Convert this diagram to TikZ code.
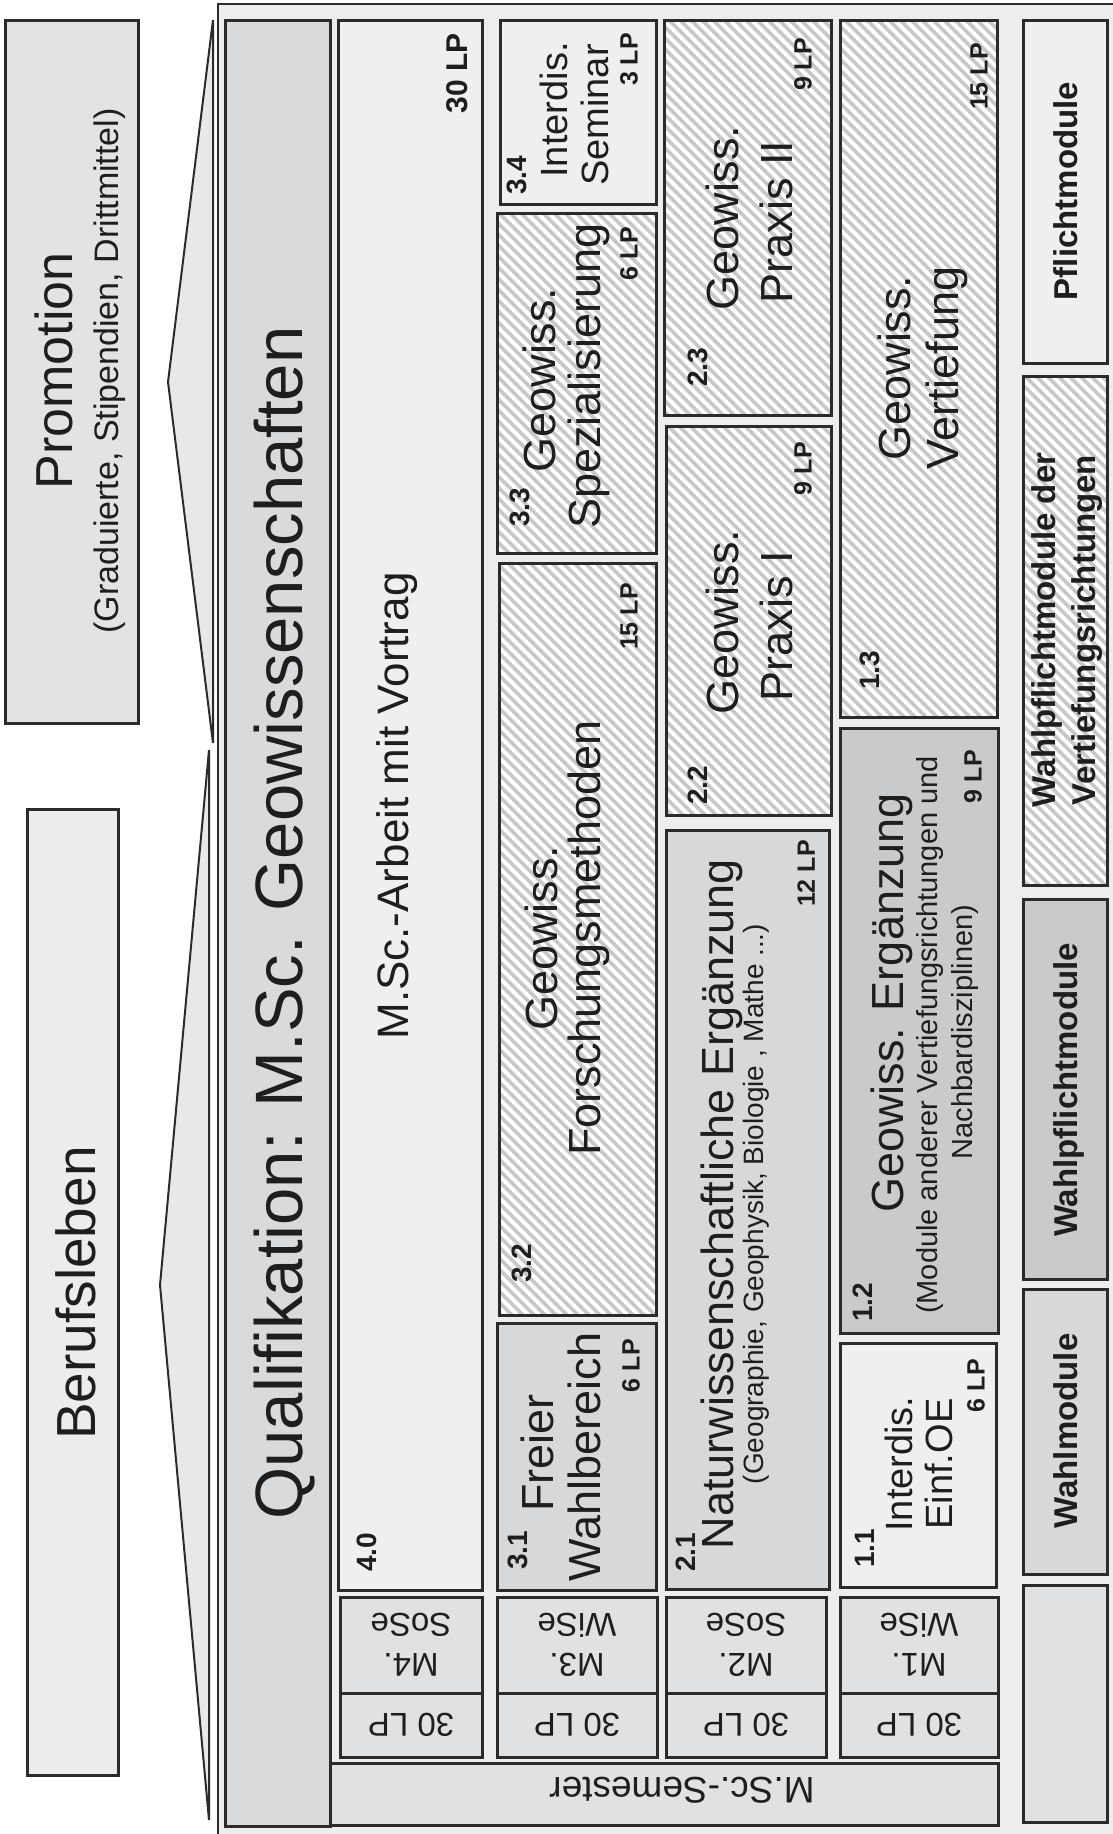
\documentclass[tikz,border=0pt]{standalone}
\usepackage{fontspec}
\setmainfont{Liberation Sans}

\definecolor{linec}{HTML}{2B2B2B}
\definecolor{textc}{HTML}{1E1E1E}
\definecolor{framec}{HTML}{EDEDED}
\definecolor{wedgec}{HTML}{E8E8E8}
\definecolor{promoc}{HTML}{E2E3E4}
\definecolor{berufc}{HTML}{ECECEC}
\definecolor{qualic}{HTML}{D9DADC}
\definecolor{pflichtc}{HTML}{EFEFEF}
\definecolor{wahlc}{HTML}{D7D8DA}
\definecolor{wpflc}{HTML}{C9CACC}
\definecolor{semc}{HTML}{E0E1E3}
\definecolor{hatchc}{HTML}{C8C8C8}

\newcommand\fsz[1]{\fontsize{#1}{#1}\selectfont}
% hatched module box: x1, y1, x2, y2 (stripes x - y = const, every 11 units)
\newcommand\hatchbox[4]{%
  \begin{scope}
    \clip (#1,#2) rectangle (#3,#4);
    \fill[white] (#1,#2) rectangle (#3,#4);
    \pgfmathtruncatemacro\hstart{floor((#1-#4)/11)*11}
    \pgfmathtruncatemacro\hnext{\hstart+11}
    \foreach \hl in {\hstart,\hnext,...,#3}
      \draw[hatchline] ({\hl+#2},#2) -- ({\hl+#4},#4);
  \end{scope}
  \draw[box] (#1,#2) rectangle (#3,#4);}

\begin{document}
\begin{tikzpicture}[x=1pt, y=-1pt]
\tikzset{
    box/.style={draw=linec, line width=3pt},
    framebox/.style={draw=linec, line width=2.5pt, fill=framec},
    wedge/.style={draw=linec, line width=2pt, fill=wedgec, line join=miter},
    pflicht/.style={box, fill=pflichtc},
    wahl/.style={box, fill=wahlc},
    wpfl/.style={box, fill=wpflc},
    hatchline/.style={draw=hatchc, line width=3.6pt},
    vtext/.style={rotate=90, anchor=base, inner sep=0pt, text=textc},
    modtitle/.style={vtext, font=\fsz{45}},
    subtext/.style={vtext, font=\fsz{29}},
    modnum/.style={rotate=90, anchor=north west, inner sep=0pt, text=textc, font=\bfseries\fsz{28}},
    lp/.style={rotate=90, anchor=south east, inner sep=0pt, text=textc, font=\bfseries\fsz{25}},
    semtext/.style={rotate=180, anchor=base, inner sep=0pt, text=textc, font=\fsz{33}},
    legtext/.style={vtext, font=\bfseries\fsz{33}}
}
\useasboundingbox (0,0) rectangle (1113,1834);

% outer frame and the two wedges
\draw[framebox] (218,4) rectangle (1130,1850);
\draw[wedge] (213,20) -- (168,382) -- (213,743) -- cycle;
\draw[wedge] (209,750) -- (160,1285) -- (209,1820) -- cycle;

% left column
\draw[box, fill=promoc] (5,20) rectangle (138,723);
\node[vtext, font=\fsz{52}] (promo) at (72,371) {Promotion};
\node[vtext, font=\fsz{34}] (promosub) at (118,371) {(Graduierte, Stipendien, Drittmittel)};
\draw[box, fill=berufc] (27,809) rectangle (118,1775);
\node[vtext, font=\fsz{55}] (beruf) at (95,1293) {Berufsleben};

% qualification bar
\draw[box, fill=qualic] (225,20) rectangle (330,1826);
\node[vtext, font=\fsz{67}] (quali) at (302,923) {Qualifikation: M.Sc. Geowissenschaften};

% semester 4
\draw[pflicht] (338,20) rectangle (482,1590);
\node[modnum] (n40) at (357,1572) {4.0};
\node[vtext, font=\fsz{44}] (t40) at (408,806) {M.Sc.-Arbeit mit Vortrag};
\node[lp, font=\bfseries\fsz{30}] (lp40) at (468,33) {30 LP};

% semester 3
\draw[pflicht] (500,20) rectangle (656,204);
\node[modnum] (n34) at (507,195) {3.4};
\node[vtext, font=\fsz{38}] (t34a) at (567,110) {Interdis.};
\node[vtext, font=\fsz{38}] (t34b) at (608,115) {Seminar};
\node[lp] (lp34) at (638,33) {3 LP};

\hatchbox{497}{213}{656}{553}
\node[modnum] (n33) at (510,527) {3.3};
\node[modtitle] (t33a) at (555,380) {Geowiss.};
\node[modtitle] (t33b) at (600,376) {Spezialisierung};
\node[lp] (lp33) at (638,227) {6 LP};

\hatchbox{499}{563}{656}{1315}
\node[modnum] (n32) at (512,1283) {3.2};
\node[modtitle] (t32a) at (557,938) {Geowiss.};
\node[modtitle] (t32b) at (600,938) {Forschungsmethoden};
\node[lp] (lp32) at (638,583) {15 LP};

\draw[wahl] (497,1323) rectangle (656,1590);
\node[modnum] (n31) at (508,1570) {3.1};
\node[modtitle] (t31a) at (553,1453) {Freier};
\node[modtitle] (t31b) at (600,1457) {Wahlbereich};
\node[lp] (lp31) at (640,1339) {6 LP};

% semester 2
\hatchbox{664}{20}{831}{415}
\node[modnum] (n23) at (688,387) {2.3};
\node[modtitle] (t23a) at (738,218) {Geowiss.};
\node[modtitle] (t23b) at (792,222) {Praxis II};
\node[lp] (lp23) at (812,38) {9 LP};

\hatchbox{666}{426}{831}{815}
\node[modnum] (n22) at (688,805) {2.2};
\node[modtitle] (t22a) at (738,622) {Geowiss.};
\node[modtitle] (t22b) at (792,626) {Praxis I};
\node[lp] (lp22) at (812,442) {9 LP};

\draw[wahl] (666,830) rectangle (829,1589);
\node[modnum] (n21) at (676,1572) {2.1};
\node[modtitle] (t21a) at (733,1204) {Naturwissenschaftliche Ergänzung};
\node[subtext, font=\fsz{28}] (t21b) at (763,1204) {(Geographie, Geophysik, Biologie , Mathe ...)};
\node[lp] (lp21) at (815,840) {12 LP};

% semester 1
\hatchbox{840}{20}{997}{717}
\node[modnum] (n13) at (860,690) {1.3};
\node[modtitle] (t13a) at (910,368) {Geowiss.};
\node[modtitle] (t13b) at (958,368) {Vertiefung};
\node[lp] (lp13) at (988,43) {15 LP};

\draw[wpfl] (840,728) rectangle (998,1333);
\node[modnum] (n12) at (853,1322) {1.2};
\node[modtitle] (t12a) at (903,1003) {Geowiss. Ergänzung};
\node[subtext] (t12b) at (937,1035) {(Module anderer Vertiefungsrichtungen und};
\node[subtext] (t12c) at (972,1032) {Nachbardisziplinen)};
\node[lp] (lp12) at (982,750) {9 LP};

\draw[pflicht] (840,1343) rectangle (996,1587);
\node[modnum] (n11) at (855,1568) {1.1};
\node[vtext, font=\fsz{38}] (t11a) at (912,1464) {Interdis.};
\node[vtext, font=\fsz{38}] (t11b) at (952,1464) {Einf.OE};
\node[lp] (lp11) at (985,1359) {6 LP};

% semester boxes
\foreach \xa/\xb/\n/\term in {340/482/4/SoSe, 497/657/3/WiSe, 666/826/2/SoSe, 840/998/1/WiSe} {
    \draw[box, fill=semc] (\xa,1597) rectangle (\xb,1757);
    \draw[box] (\xa,1693) -- (\xb,1693);
    \node[semtext] (sem\n a) at ({(\xa+\xb)/2},1653) {M\n.};
    \node[semtext] (sem\n b) at ({(\xa+\xb)/2},1613) {\term};
    \node[semtext] (sem\n c) at ({(\xa+\xb)/2},1713) {30 LP};
}
\draw[box, fill=semc] (330,1763) rectangle (998,1825);
\node[semtext, font=\fsz{37}] (semlabel) at (682,1777) {M.Sc.-Semester};

% legend
\draw[pflicht] (1023,20) rectangle (1107,363);
\node[legtext] (legpfl) at (1077,191) {Pflichtmodule};
\hatchbox{1023}{376}{1107}{885}
\node[legtext] (legvta) at (1055,630) {Wahlpflichtmodule der};
\node[legtext] (legvtb) at (1095,630) {Vertiefungsrichtungen};
\draw[wpfl] (1023,899) rectangle (1107,1279);
\node[legtext] (legwpf) at (1077,1090) {Wahlpflichtmodule};
\draw[wahl] (1023,1289) rectangle (1107,1574);
\node[legtext] (legwahl) at (1077,1431) {Wahlmodule};
\draw[box, fill=semc] (1023,1585) rectangle (1107,1822);

\end{tikzpicture}
\end{document}
